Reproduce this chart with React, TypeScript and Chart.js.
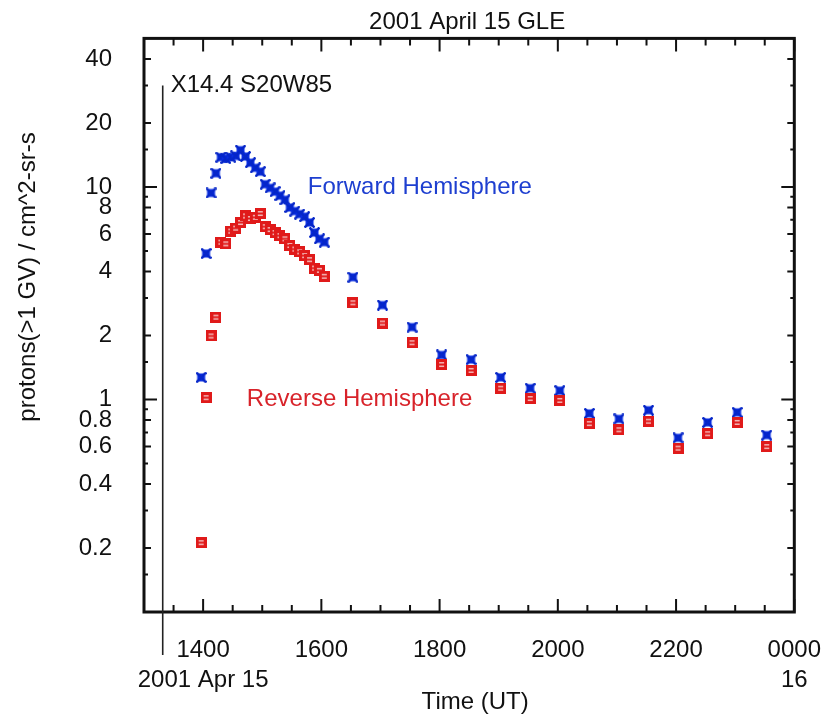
import React, { useEffect, useRef } from "react";
import { Chart, registerables } from "chart.js";

Chart.register(...registerables);

const FONT = '"Liberation Sans", Arial, Helvetica, sans-serif';
const INK = "#111111";
const BLUE = "#0a2ee6";
const RED = "#e01a1a";
const BLUE_TEXT = "#1e3fd0";
const RED_TEXT = "#d8232a";

// 5-minute averages during the rise and early decay (UT, 15 April 2001)
const fastTimes = [
  "13:58", "14:03", "14:08", "14:13", "14:18", "14:23", "14:28", "14:33", "14:38",
  "14:43", "14:48", "14:53", "14:58", "15:03", "15:08", "15:13", "15:18", "15:23",
  "15:28", "15:33", "15:38", "15:43", "15:48", "15:53", "15:58", "16:03",
];
// 30-minute averages for the rest of the day
const slowTimes = [
  "16:32", "17:02", "17:32", "18:02", "18:32", "19:02", "19:32", "20:02",
  "20:32", "21:02", "21:32", "22:02", "22:32", "23:02", "23:32",
];

const forwardFast = [
  1.27, 4.86, 9.37, 11.6, 13.8, 13.6, 13.8, 14.0, 14.9, 13.9, 13.0, 12.3, 11.8,
  10.3, 9.9, 9.5, 9.1, 8.7, 8.0, 7.7, 7.45, 7.25, 6.8, 6.1, 5.7, 5.5,
];
const forwardSlow = [
  3.76, 2.78, 2.19, 1.62, 1.54, 1.27, 1.13, 1.1, 0.86, 0.81, 0.89, 0.66, 0.78, 0.87, 0.68,
];
const reverseFast = [
  0.212, 1.02, 1.99, 2.44, 5.5, 5.4, 6.2, 6.4, 6.8, 7.3, 7.1, 7.2, 7.5, 6.5, 6.3,
  6.1, 5.9, 5.7, 5.3, 5.1, 4.95, 4.75, 4.55, 4.15, 4.05, 3.8,
];
const reverseSlow = [
  2.85, 2.29, 1.85, 1.46, 1.37, 1.13, 1.01, 0.99, 0.77, 0.72, 0.79, 0.59, 0.69, 0.78, 0.6,
];

// Axis ticks
const xLabelTicks = [14, 16, 18, 20, 22, 24];
const xTickLabels: (string | string[])[] = [
  ["1400", "2001 Apr 15"], "1600", "1800", "2000", "2200", ["0000", "16"],
];
const xMinorTicks = [
  13.5, 14.5, 15, 15.5, 16.5, 17, 17.5, 18.5, 19, 19.5, 20.5, 21, 21.5, 22.5, 23, 23.5,
];
const yTickValues = [
  0.15, 0.2, 0.3, 0.4, 0.5, 0.6, 0.7, 0.8, 0.9, 1, 1.5, 2, 3, 4, 5, 6, 7, 8, 9, 10, 15, 20, 30, 40,
];
const yLabeled = [0.2, 0.4, 0.6, 0.8, 1, 2, 4, 6, 8, 10, 20, 40];
const yDecades = [1, 10];

// Flare onset marker
const flareTime = "13:19";
const flareLabel = "X14.4 S20W85";
const flareLineTop = 30;

const toHours = (hhmm: string) => {
  const [h, m] = hhmm.split(":").map(Number);
  return h + m / 60;
};

const makePoints = (times: string[], values: number[]) =>
  times.map((t, i) => ({ x: toHours(t), y: values[i] }));

// filled box with a heavy diagonal cross
function blueMarker() {
  const c = document.createElement("canvas");
  c.width = 11;
  c.height = 11;
  const g = c.getContext("2d")!;
  g.fillStyle = BLUE;
  g.fillRect(1.5, 1.5, 8, 8);
  g.strokeStyle = "#0626c8";
  g.lineWidth = 2.6;
  g.beginPath();
  g.moveTo(0.5, 0.5);
  g.lineTo(10.5, 10.5);
  g.moveTo(10.5, 0.5);
  g.lineTo(0.5, 10.5);
  g.stroke();
  return c;
}

// solid box with a pale "=" inside
function redMarker() {
  const c = document.createElement("canvas");
  c.width = 11;
  c.height = 11;
  const g = c.getContext("2d")!;
  g.fillStyle = RED;
  g.fillRect(0, 0, 11, 11);
  g.fillStyle = "#f4b8b8";
  g.fillRect(3, 3, 5, 1.5);
  g.fillRect(3, 6.5, 5, 1.5);
  return c;
}

const framePlugin = {
  id: "frame",
  afterDraw(chart: any) {
    const { ctx, chartArea: a, scales } = chart;
    const xs = scales.x;
    const ys = scales.y;
    ctx.save();

    // inward tick marks on all four sides
    ctx.strokeStyle = INK;
    ctx.lineWidth = 2;
    ctx.beginPath();
    for (const v of yTickValues) {
      const py = ys.getPixelForValue(v);
      const len = yDecades.includes(v) ? 13 : yLabeled.includes(v) ? 7 : 4;
      ctx.moveTo(a.left, py);
      ctx.lineTo(a.left + len, py);
      ctx.moveTo(a.right, py);
      ctx.lineTo(a.right - len, py);
    }
    for (const t of [...xLabelTicks, ...xMinorTicks]) {
      const px = xs.getPixelForValue(t);
      const len = xLabelTicks.includes(t) ? 13 : 7;
      ctx.moveTo(px, a.bottom);
      ctx.lineTo(px, a.bottom - len);
      ctx.moveTo(px, a.top);
      ctx.lineTo(px, a.top + len);
    }
    ctx.stroke();

    // plot frame
    ctx.lineWidth = 3;
    ctx.strokeRect(a.left, a.top, a.right - a.left, a.bottom - a.top);

    // flare onset line and label
    const fx = xs.getPixelForValue(toHours(flareTime));
    const fTop = ys.getPixelForValue(flareLineTop);
    ctx.lineWidth = 1.6;
    ctx.strokeStyle = "#222";
    ctx.beginPath();
    ctx.moveTo(fx, fTop);
    ctx.lineTo(fx, a.bottom + 43);
    ctx.stroke();

    ctx.fillStyle = INK;
    ctx.font = `24px ${FONT}`;
    ctx.textBaseline = "middle";
    ctx.textAlign = "left";
    ctx.fillText(flareLabel, fx + 8, fTop);

    // series labels
    ctx.fillStyle = BLUE_TEXT;
    ctx.fillText("Forward Hemisphere", xs.getPixelForValue(15.77), ys.getPixelForValue(10));
    ctx.fillStyle = RED_TEXT;
    ctx.fillText("Reverse Hemisphere", xs.getPixelForValue(14.74), ys.getPixelForValue(1));

    // titles
    ctx.fillStyle = INK;
    ctx.textAlign = "center";
    ctx.fillText("2001 April 15 GLE", (a.left + a.right) / 2 - 2, a.top - 16);
    ctx.fillText("Time (UT)", (a.left + a.right) / 2 + 6, a.bottom + 90);

    ctx.translate(28, 277);
    ctx.rotate(-Math.PI / 2);
    ctx.fillText("protons(>1 GV) / cm^2-sr-s", 0, 0);

    ctx.restore();
  },
};

export default function App() {
  const canvasRef = useRef<HTMLCanvasElement | null>(null);

  useEffect(() => {
    const canvas = canvasRef.current;
    if (!canvas) return;

    const chart = new Chart(canvas, {
      type: "scatter",
      data: {
        datasets: [
          {
            label: "Reverse Hemisphere",
            data: [...makePoints(fastTimes, reverseFast), ...makePoints(slowTimes, reverseSlow)],
            pointStyle: redMarker(),
            pointRadius: 5,
            showLine: false,
            order: 0,
          },
          {
            label: "Forward Hemisphere",
            data: [...makePoints(fastTimes, forwardFast), ...makePoints(slowTimes, forwardSlow)],
            pointStyle: blueMarker(),
            pointRadius: 5,
            showLine: false,
            order: 1,
          },
        ],
      },
      options: {
        responsive: false,
        animation: false,
        events: [],
        layout: { padding: { top: 35, right: 39, left: 0, bottom: 0 } },
        plugins: {
          legend: { display: false },
          tooltip: { enabled: false },
          title: { display: false },
        },
        scales: {
          x: {
            type: "linear",
            position: "bottom",
            min: 13,
            max: 24,
            grid: { display: false },
            border: { display: false },
            afterBuildTicks: (scale: any) => {
              scale.ticks = xLabelTicks.map((v) => ({ value: v }));
            },
            afterFit: (scale: any) => {
              scale.height = 104;
            },
            ticks: {
              autoSkip: false,
              maxRotation: 0,
              minRotation: 0,
              padding: 15,
              color: INK,
              font: { family: FONT, size: 24, lineHeight: 1.25 },
              callback: (_v: any, i: number) => xTickLabels[i],
            },
          },
          y: {
            type: "logarithmic",
            position: "left",
            min: 0.1,
            max: 50,
            grid: { display: false },
            border: { display: false },
            afterBuildTicks: (scale: any) => {
              scale.ticks = yTickValues.map((v) => ({ value: v }));
            },
            afterFit: (scale: any) => {
              scale.width = 144;
            },
            ticks: {
              autoSkip: false,
              padding: 24,
              color: INK,
              font: { family: FONT, size: 24 },
              callback: (v: any) => (yLabeled.includes(Number(v)) ? String(v) : ""),
            },
          },
        },
      },
      plugins: [framePlugin],
    });

    return () => chart.destroy();
  }, []);

  return (
    <div style={{ position: "absolute", left: 0, top: 0, width: 836, height: 716, background: "#fff" }}>
      <canvas ref={canvasRef} width={836} height={716} />
    </div>
  );
}
